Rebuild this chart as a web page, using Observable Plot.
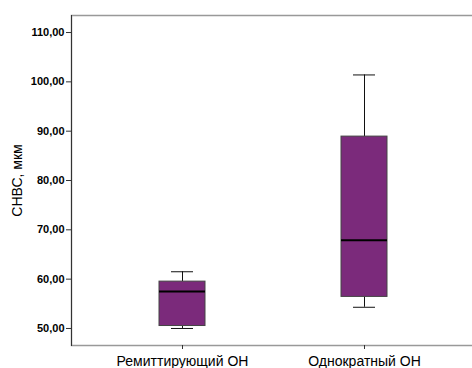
<!DOCTYPE html>
<html><head><meta charset="utf-8">
<script src="https://cdn.jsdelivr.net/npm/d3@7"></script>
<script src="https://cdn.jsdelivr.net/npm/@observablehq/plot@0.6"></script>
<style>html,body{margin:0;padding:0;overflow:hidden;background:#fff} svg{max-width:none !important;}</style>
</head><body><div id="chart"></div>
<script>
const groups = ["Ремиттирующий ОН", "Однократный ОН"];
const whiskerLow = [50.0, 54.3];
const q1 = [50.5, 56.4];
const median = [57.5, 67.9];
const q3 = [59.5, 88.9];
const whiskerHigh = [61.5, 101.4];
const yTicks = [50, 60, 70, 80, 90, 100, 110];
const yLabel = "СНВС, мкм";

const data = groups.map((g, i) => ({
  group: g, low: whiskerLow[i], q1: q1[i], median: median[i], q3: q3[i], high: whiskerHigh[i]
}));

const chart = Plot.plot({
  width: 476, height: 368,
  marginLeft: 71, marginRight: 0, marginTop: 15, marginBottom: 23,
  style: {fontFamily: "'Liberation Sans', Arial, sans-serif", background: "#fff", color: "#000", maxWidth: "none"},
  x: {domain: groups, paddingInner: 0.747, paddingOuter: 0.4835, label: null},
  y: {domain: [46.55, 113.45], label: null},
  marks: [
    Plot.frame({stroke: "#999", strokeWidth: 1.5}),
    Plot.frame({anchor: "left", stroke: "#333", strokeWidth: 1}),
    Plot.ruleX(data, {x: "group", y1: "low", y2: "q1", stroke: "#111"}),
    Plot.ruleX(data, {x: "group", y1: "q3", y2: "high", stroke: "#111"}),
    Plot.tickY(data, {x: "group", y: "low", insetLeft: 12, insetRight: 12, stroke: "#111"}),
    Plot.tickY(data, {x: "group", y: "high", insetLeft: 12, insetRight: 12, stroke: "#111"}),
    Plot.barY(data, {x: "group", y1: "q1", y2: "q3", fill: "#7b2a7b", stroke: "#444", strokeWidth: 1}),
    Plot.tickY(data, {x: "group", y: "median", stroke: "#000", strokeWidth: 2}),
    Plot.axisY({ticks: yTicks, tickFormat: d => d.toFixed(2).replace(".", ","), tickSize: 5, tickPadding: 2,
      fontWeight: "bold", fontSize: 11, stroke: "#333", label: null}),
    Plot.axisX({tickSize: 4, tickPadding: 7, fontSize: 14, stroke: "#333", label: null}),
    Plot.text([yLabel], {text: d => d, frameAnchor: "left", dx: -54, rotate: -90, fontSize: 14, textAnchor: "middle", fill: "#000"})
  ]
});
chart.style.maxWidth = "none";
document.getElementById("chart").append(chart);
</script>
</body></html>
